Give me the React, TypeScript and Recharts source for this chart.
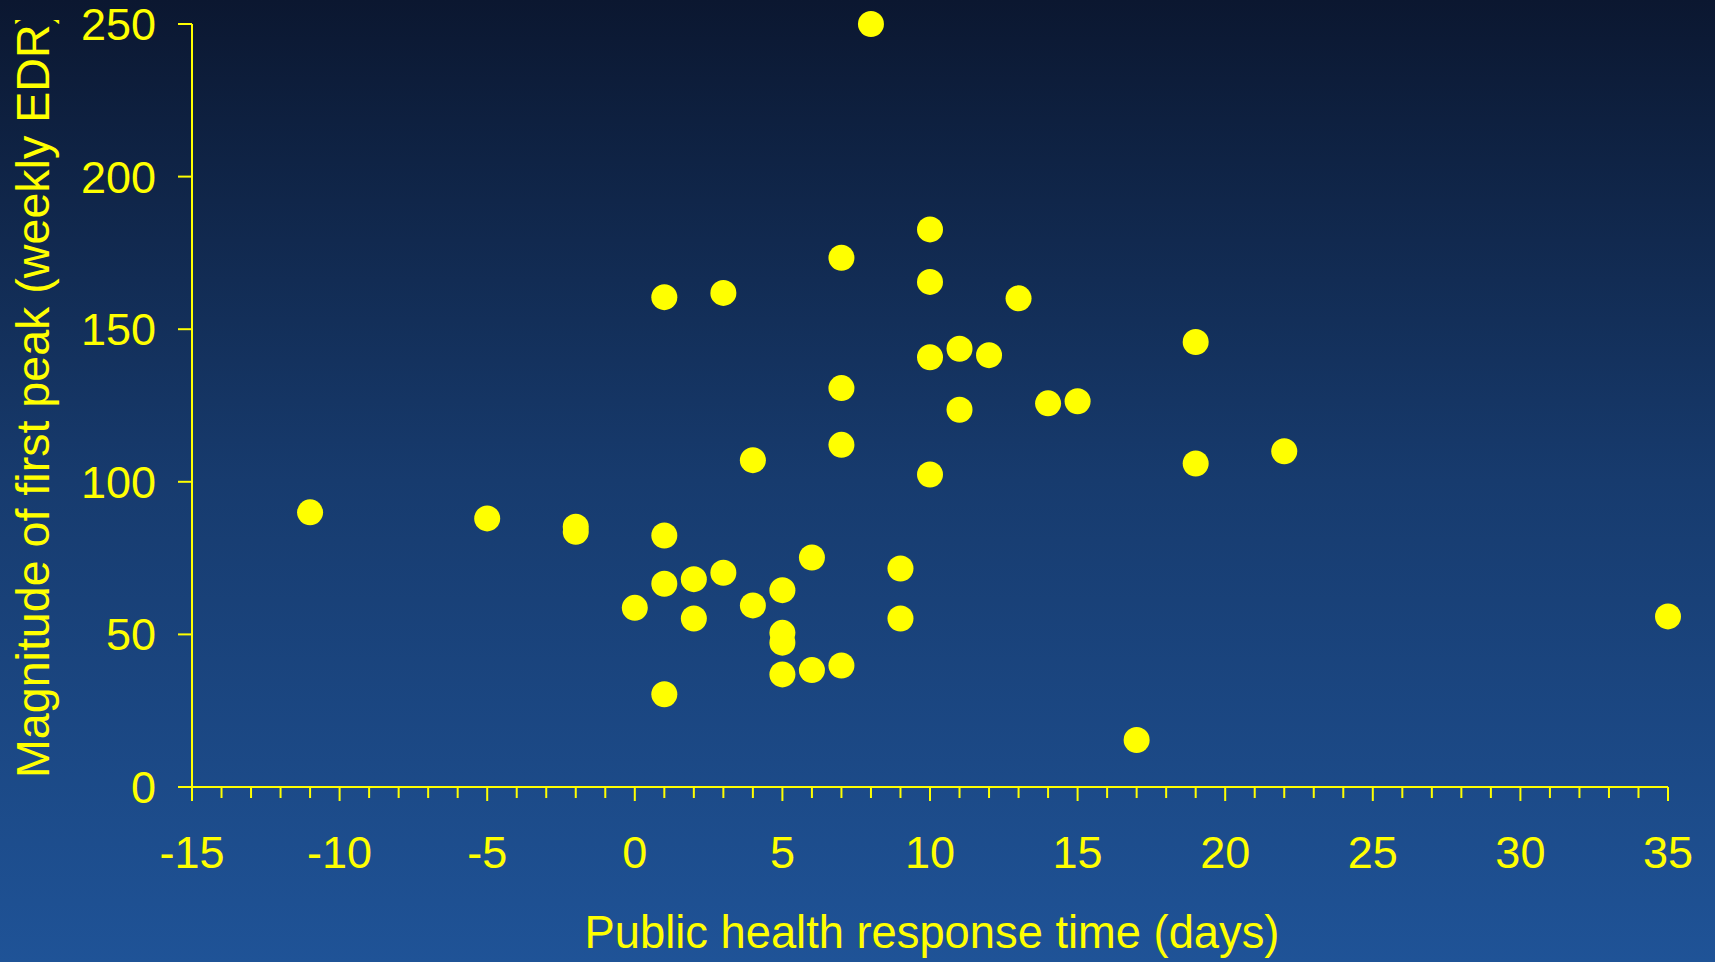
import React from "react";
import { ScatterChart, Scatter, XAxis, YAxis, Label } from "recharts";

const YEL = "#ffff00";
const FONT = '"Liberation Sans", Arial, Helvetica, sans-serif';

// Public health response time (days)
const responseDays = [
  -11, -5, -2, -2, 0, 1, 1, 1, 1, 2, 2, 3, 3, 4, 4, 5, 5, 5, 5, 6, 6, 7, 7, 7, 7,
  8, 9, 9, 10, 10, 10, 10, 11, 11, 12, 13, 14, 15, 17, 19, 19, 22, 35,
];
// Magnitude of first peak (weekly EDR)
const peakMagnitude = [
  90, 88, 85.3, 83.6, 58.7, 82.4, 66.6, 30.4, 160.5, 68.1, 55.2, 70.2, 161.9,
  59.5, 107.1, 64.5, 50.5, 47.3, 36.9, 75.2, 38.3, 39.8, 112.1, 130.7, 173.4,
  250, 71.6, 55.2, 182.7, 165.5, 140.8, 102.4, 143.6, 123.6, 141.5, 160.1,
  125.7, 126.4, 15.4, 145.8, 106, 110, 55.9,
];

const xTicks = Array.from({ length: 51 }, (_, i) => i - 15);
const yTicks = [0, 50, 100, 150, 200, 250];

const xTitle = "Public health response time (days)";
const yTitle = "Magnitude of first peak (weekly EDR)";

const data = responseDays.map((x, i) => ({ x, y: peakMagnitude[i] }));

const XTick = (props: any) => {
  const { x, y, payload } = props;
  const v = payload.value;
  const major = v % 5 === 0;
  return (
    <g>
      <line x1={x} x2={x} y1={y} y2={y + (major ? 14 : 11)} stroke={YEL} strokeWidth={2} />
      {major && (
        <text x={x} y={y + 81} textAnchor="middle" fill={YEL} fontSize={45} fontFamily={FONT}>
          {String(v)}
        </text>
      )}
    </g>
  );
};

const Dot = (props: any) => {
  const { cx, cy } = props;
  return <circle cx={cx} cy={cy} r={13} fill={YEL} />;
};

export default function App() {
  return (
    <div
      style={{
        position: "absolute",
        left: 0,
        top: 0,
        width: 1715,
        height: 962,
        background: "linear-gradient(to bottom, #0b1730 0%, #173b6e 50%, #1f5397 100%)",
        overflow: "hidden",
      }}
    >
      <ScatterChart width={1715} height={962} margin={{ top: 24, right: 47, left: 0, bottom: 0 }}>
        <XAxis
          type="number"
          dataKey="x"
          domain={[-15, 35]}
          ticks={xTicks}
          interval={0}
          tickSize={0}
          tickMargin={0}
          tickLine={false}
          tick={<XTick />}
          height={175}
          axisLine={{ stroke: YEL, strokeWidth: 2 }}
        >
          <Label
            content={(p: any) => {
              const vb = p.viewBox || { x: 192, y: 787, width: 1476 };
              return (
                <text
                  x={vb.x + vb.width / 2 + 2}
                  y={vb.y + 161}
                  textAnchor="middle"
                  fill={YEL}
                  fontSize={45.3}
                  fontFamily={FONT}
                >
                  {xTitle}
                </text>
              );
            }}
          />
        </XAxis>
        <YAxis
          type="number"
          dataKey="y"
          domain={[0, 250]}
          ticks={yTicks}
          interval={0}
          width={192}
          tickSize={14}
          tickMargin={22}
          tickLine={{ stroke: YEL, strokeWidth: 2 }}
          axisLine={{ stroke: YEL, strokeWidth: 2 }}
          tick={{ fill: YEL, fontSize: 45, fontFamily: FONT }}
        >
          <Label
            content={() => (
              <g>
                <defs>
                  <clipPath id="ytitleclip">
                    <rect x={0} y={20} width={192} height={942} />
                  </clipPath>
                </defs>
                <g clipPath="url(#ytitleclip)">
                  <text
                    transform="translate(49,778) rotate(-90)"
                    x={0}
                    y={0}
                    textAnchor="start"
                    fill={YEL}
                    fontSize={46.6}
                    fontFamily={FONT}
                  >
                    {yTitle}
                  </text>
                </g>
              </g>
            )}
          />
        </YAxis>
        <Scatter data={data} fill={YEL} shape={<Dot />} isAnimationActive={false} />
      </ScatterChart>
    </div>
  );
}
